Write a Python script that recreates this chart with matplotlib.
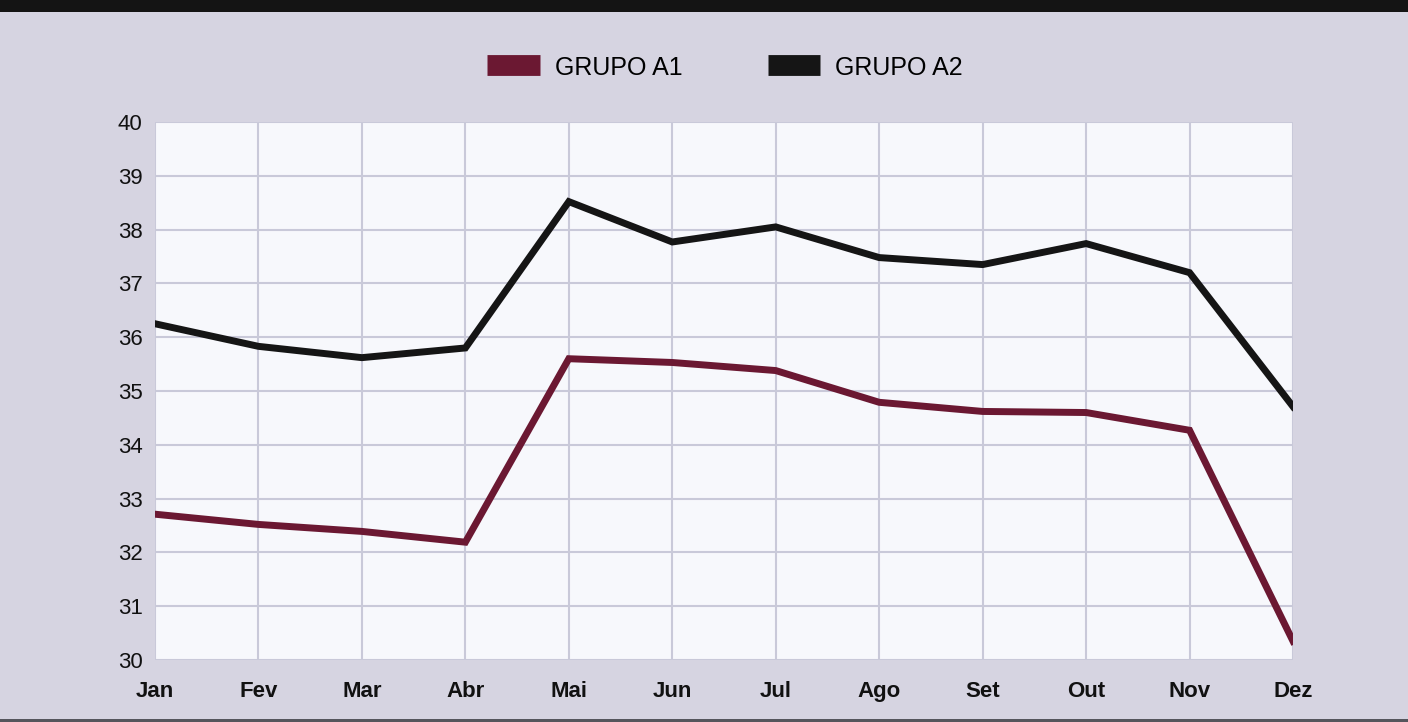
import matplotlib
matplotlib.use("Agg")
import matplotlib.pyplot as plt
from matplotlib.patches import Rectangle

months = ["Jan", "Fev", "Mar", "Abr", "Mai", "Jun", "Jul", "Ago", "Set", "Out", "Nov", "Dez"]
grupo_a1 = [32.71, 32.52, 32.39, 32.19, 35.60, 35.53, 35.38, 34.79, 34.62, 34.60, 34.27, 30.35]
grupo_a2 = [36.25, 35.83, 35.62, 35.80, 38.52, 37.77, 38.05, 37.48, 37.35, 37.74, 37.20, 34.71]
yticks = [30, 31, 32, 33, 34, 35, 36, 37, 38, 39, 40]

plt.rcParams['font.family'] = ['Liberation Sans', 'DejaVu Sans']

fig = plt.figure(figsize=(14.08, 7.22), dpi=100)
fig.patch.set_facecolor('#d6d4e1')

# top dark bar
fig.add_artist(Rectangle((0, 1 - 12/722), 1, 12/722, transform=fig.transFigure,
                         facecolor='#141414', edgecolor='none'))
# bottom thin line
fig.add_artist(Rectangle((0, 0), 1, 3/722, transform=fig.transFigure,
                         facecolor='#55555c', edgecolor='none'))

ax = fig.add_axes([155/1408, 1 - 660/722, (1293-155)/1408, (660-122)/722])
ax.set_facecolor('#f7f8fc')
x = list(range(len(months)))
ax.plot(x, grupo_a1, color='#6b1832', lw=5, solid_joinstyle='miter', label='GRUPO A1', zorder=3)
ax.plot(x, grupo_a2, color='#151515', lw=5, solid_joinstyle='miter', label='GRUPO A2', zorder=3)

ax.set_xlim(0, len(months) - 1)
ax.set_ylim(30, 40)
ax.set_xticks(x)
ax.set_xticklabels(months, fontsize=16, fontweight='bold', color='#111111')
ax.set_yticks(yticks)
ax.set_yticklabels([str(v) for v in yticks], fontsize=16, color='#111111')
ax.tick_params(axis='both', length=0)
ax.tick_params(axis='x', pad=15)
ax.tick_params(axis='y', pad=9)
ax.grid(True, color='#c9c9d9', lw=1.5, zorder=1)
for s in ax.spines.values():
    s.set_visible(False)

leg = fig.legend(loc='center', bbox_to_anchor=(0.515, 1 - 67/722), ncol=2, frameon=False,
                 fontsize=18, handlelength=2.1, handleheight=1.1, columnspacing=3.4,
                 handletextpad=0.6)
for h in leg.legend_handles:
    h.set_linewidth(15)
    h.set_solid_capstyle('butt')

fig.savefig('out.png', dpi=100, facecolor=fig.get_facecolor())
